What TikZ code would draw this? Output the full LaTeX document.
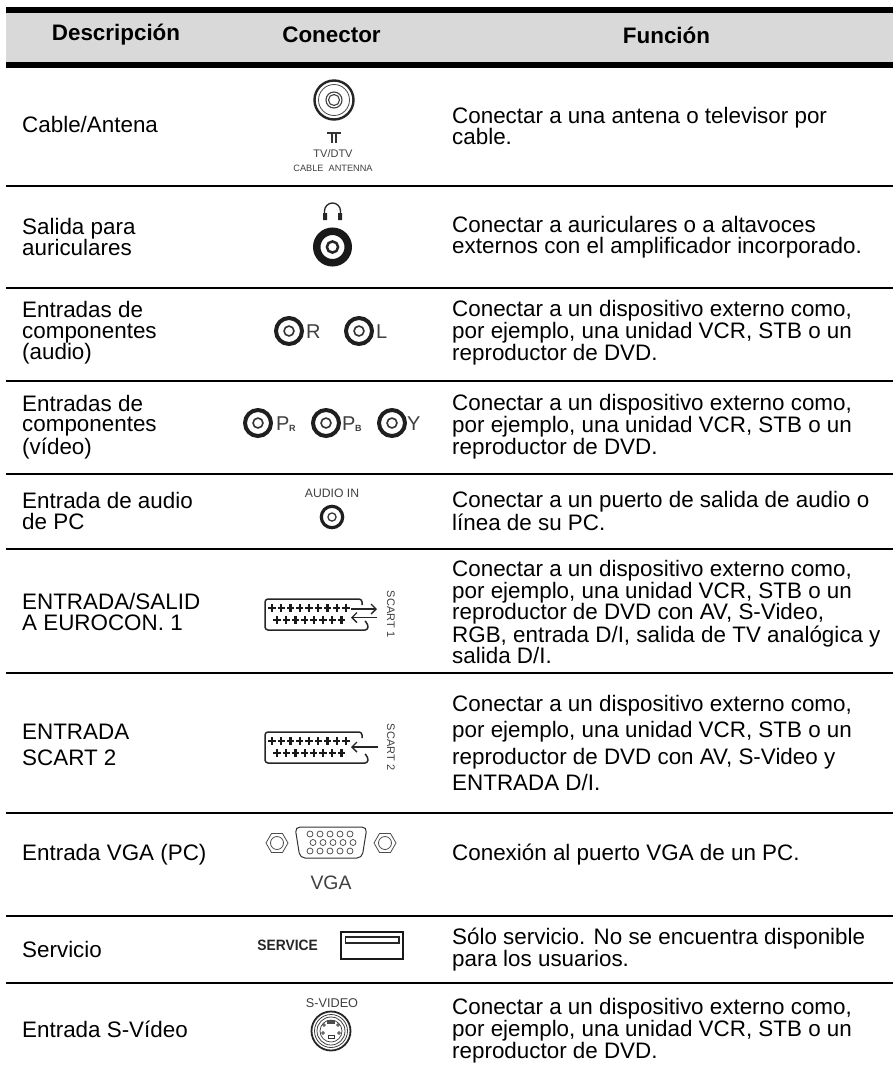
\documentclass[tikz,border=0pt]{standalone}
\usepackage{fontspec}
\setmainfont{Liberation Sans}
\newfontfamily\svcfont[FakeStretch=0.92]{Liberation Sans}
\usetikzlibrary{arrows.meta}
\tikzset{
  txt/.style={anchor=west,align=left,inner sep=0pt,font=\fontsize{22.4}{20.5}\selectfont},
  txtwide/.style={anchor=west,align=left,inner sep=0pt,font=\fontsize{22.4}{26.5}\selectfont},
  hdr/.style={inner sep=0pt,font=\fontsize{22.4}{24}\selectfont\bfseries},
  rowline/.style={line width=2pt,black},
  small/.style={inner sep=0pt,text=black!75},
  pin/.style={line width=2.2pt,black!90},
  scart/.style={line width=1.5pt,black!85,line join=round,rounded corners=3pt},
  barb/.style={-{Straight Barb[length=5pt,width=10pt]},line width=1.4pt,black!85},
}
\newcommand{\jack}[4]{% x y router lwouter
  \draw[line width=#4pt,black!88] (#1,#2) circle ({#3-#4/2});
  \draw[line width=#4*0.4pt,black!80] (#1,#2) circle ({#3*0.33});
}
\newcommand{\plusat}[2]{\draw[pin] (#1-3.6,#2)--(#1+3.6,#2) (#1,#2-3.6)--(#1,#2+3.6);}
\newcommand{\scartbody}[1]{%
  \begin{scope}[shift={(0,#1)}]
  \draw[scart] (362,605)--(362,599)--(265,599)--(265,630)--(368,630)--(368,624)--(365,621);
  \foreach \i in {0,...,8}{\plusat{272+\i*9.25}{608}}
  \foreach \i in {0,...,7}{\plusat{277+\i*9.2}{620}}
  \end{scope}
}
\begin{document}
\begin{tikzpicture}[x=1pt,y=-1pt]
\useasboundingbox (0,0) rectangle (893,1069);
\fill[white] (0,0) rectangle (893,1069);
% header
\fill[black!15] (6,10) rectangle (893,65);
\draw[line width=6pt] (6,10)--(893,10);
\draw[line width=6pt] (6,65)--(893,65);
\node[hdr] (h1) at (116,35) {Descripción};
\node[hdr] (h2) at (331.5,35) {Conector};
\node[hdr] (h3) at (666.5,35) {Función};
% row lines
\foreach \y in {186,288,381,474,549,673,813,916,983}{\draw[rowline] (6,\y)--(893,\y);}
% left column
\node[txt] (d1) at (22,124) {Cable/Antena};
\node[txt] (d2) at (22,237) {Salida para\\auriculares};
\node[txt] (d3) at (22,333) {Entradas de\\componentes\\(audio)};
\node[txt] (d4) at (22,427) {Entradas de\\componentes\\(vídeo)};
\node[txt] (d5) at (22,511) {Entrada de audio\\de PC};
\node[txt] (d6) at (22,612) {ENTRADA/SALID\\A EUROCON. 1};
\node[txtwide] (d7) at (22,745) {ENTRADA\\SCART 2};
\node[txt] (d8) at (22,855) {Entrada VGA (PC)};
\node[txt] (d9) at (22,949) {Servicio};
\node[txt] (d10) at (22,1029) {Entrada S-Vídeo};
% right column
\node[txt] (f1) at (452,126) {Conectar a una antena o televisor por\\cable.};
\node[txt] (f2) at (452,237) {Conectar a auriculares o a altavoces\\externos con el amplificador incorporado.};
\node[txt] (f3) at (452,333) {Conectar a un dispositivo externo como,\\por ejemplo, una unidad VCR, STB o un\\reproductor de DVD.};
\node[txt] (f4) at (452,427) {Conectar a un dispositivo externo como,\\por ejemplo, una unidad VCR, STB o un\\reproductor de DVD.};
\node[txt] (f5) at (452,511) {Conectar a un puerto de salida de audio o\\línea de su PC.};
\node[txt] (f6) at (452,612) {Conectar a un dispositivo externo como,\\por ejemplo, una unidad VCR, STB o un\\reproductor de DVD con AV, S-Video,\\RGB, entrada D/I, salida de TV analógica y\\salida D/I.};
\node[txtwide] (f7) at (452,743) {Conectar a un dispositivo externo como,\\por ejemplo, una unidad VCR, STB o un\\reproductor de DVD con AV, S-Video y\\ENTRADA D/I.};
\node[txt] (f8) at (452,855) {Conexión al puerto VGA de un PC.};
\node[txt] (f9) at (452,950) {Sólo servicio. No se encuentra disponible\\para los usuarios.};
\node[txt] (f10) at (452,1031) {Conectar a un dispositivo externo como,\\por ejemplo, una unidad VCR, STB o un\\reproductor de DVD.};
% antenna
\draw[line width=2.4pt,black!85] (334,100) circle (19.5);
\draw[line width=.8pt,black!70] (334,100) circle (15.5);
\draw[line width=1.1pt,black!75] (334,100) circle (8);
\draw[line width=1.1pt,black!75] (334,100) circle (5.5);
\draw[line width=1.2pt,black!80] (327,133)--(341,133) (332,133)--(332,143) (336,133)--(336,143);
\node[small,font=\fontsize{11}{12}\selectfont] (a1) at (333,154) {TV/DTV};
\node[small,font=\fontsize{9.2}{10}\selectfont] (a2) at (333,168) {CABLE\ \ ANTENNA};
% headphones
\draw[line width=1.3pt,black!85] (324.5,217) -- (324.5,211) arc[start angle=180,end angle=360,radius=8] -- (340.5,217);
\fill[black!85] (323,213) rectangle (327,220) (338,213) rectangle (342,220);
\draw[line width=7.5pt,black!90] (332.5,247) circle (15.75);
\draw[line width=2.5pt,black!85] (332.5,247) circle (5.6);
% R L
\jack{289}{331}{15}{4}
\node[small,anchor=west,font=\fontsize{20}{20}\selectfont] (r) at (306,331.5) {R};
\jack{359}{331}{15}{4}
\node[small,anchor=west,font=\fontsize{20}{20}\selectfont] (l) at (376,331.5) {L};
% Pr Pb Y
\jack{258}{423}{15}{4}
\node[small,anchor=west,font=\fontsize{20}{20}\selectfont] (pr) at (276,424) {P};
\node[small,anchor=west,font=\fontsize{9}{9}\selectfont\bfseries] (prr) at (289,428) {R};
\jack{326}{423}{15}{4}
\node[small,anchor=west,font=\fontsize{20}{20}\selectfont] (pb) at (342,424) {P};
\node[small,anchor=west,font=\fontsize{9}{9}\selectfont\bfseries] (pbb) at (355,428) {B};
\jack{392}{423}{15}{4}
\node[small,anchor=west,font=\fontsize{20}{20}\selectfont] (y) at (407,424) {Y};
% audio in
\node[small,font=\fontsize{12.2}{12}\selectfont] (ai) at (332,493) {AUDIO IN};
\jack{332}{517}{12.3}{3.2}
% scart 1
\scartbody{0}
\draw[barb] (351,609)--(377,609);
\draw[barb] (377,617.5)--(351,617.5);
\node[small,rotate=-90,font=\fontsize{11}{12}\selectfont] (s1) at (391,614) {SCART 1};
% scart 2
\scartbody{133}
\draw[barb] (378,747)--(351,747);
\node[small,rotate=-90,font=\fontsize{11}{12}\selectfont] (s2) at (391,747) {SCART 2};
% vga
\draw[line width=1pt,black!80,rounded corners=5pt] (295,827)--(367,827)--(362,858)--(300,858)--cycle;
\foreach \x in {310,320,330,340,350}{\draw[line width=.7pt,black!75] (\x,834) circle (3) (\x,851) circle (3) (\x+3,842.5) circle (3);}
\foreach \c in {277,385}{
  \draw[line width=.8pt,black!70] (\c-11,843)--(\c-5.5,833.5)--(\c+5.5,833.5)--(\c+11,843)--(\c+5.5,852.5)--(\c-5.5,852.5)--cycle;
  \draw[line width=.8pt,black!70] (\c,843) circle (6.5);
}
\node[small,font=\fontsize{19.4}{18}\selectfont] (vga) at (331,883) {VGA};
% service
\node[inner sep=0pt,anchor=east,text=black!85,font=\svcfont\fontsize{15}{13}\selectfont\bfseries] (srv) at (318,945.5) {SERVICE};
\draw[line width=2.2pt,black!90] (341,932) rectangle (403,959);
\draw[line width=1.1pt,black!85] (345.5,937) rectangle (399,943);
% s-video
\node[small,font=\fontsize{12.7}{12}\selectfont] (sv) at (332,1003) {S-VIDEO};
\draw[line width=1.8pt,black!85] (331,1031) circle (19.5);
\draw[line width=.8pt,black!75] (331,1031) circle (16.5);
\draw[line width=.8pt,black!75] (331,1031) circle (14);
\draw[line width=.7pt,black!75] (331,1031) circle (11);
\fill[black!70] (327,1020) rectangle (335,1024);
\draw[line width=.7pt,black!80] (324,1025) circle (1.4) (338,1025) circle (1.4) (323,1033) circle (1.4) (339,1033) circle (1.4);
\draw[line width=.7pt,black!80] (328,1035) rectangle (334,1038);
\end{tikzpicture}
\end{document}
